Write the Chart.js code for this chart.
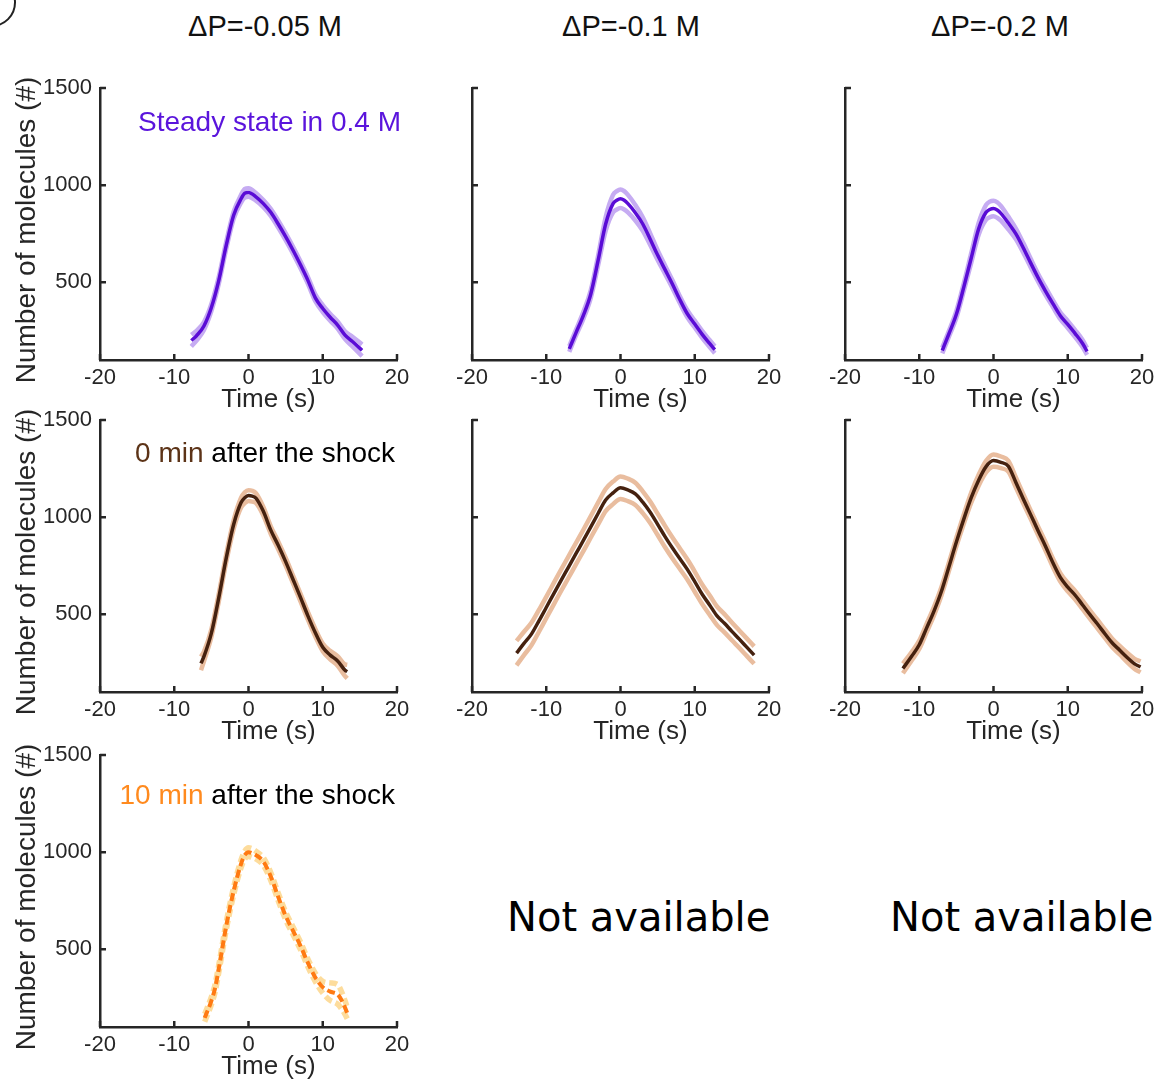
<!DOCTYPE html>
<html>
<head>
<meta charset="utf-8">
<script src="https://cdn.jsdelivr.net/npm/chart.js@4.4.0/dist/chart.umd.min.js"></script>
<style>
  body { margin: 0; width: 1162px; height: 1079px; overflow: hidden; background: #fff; position: relative;
         font-family: "Liberation Sans", Arial, sans-serif; }
  .painel { position: absolute; }
  .titulo-col { position: absolute; top: 12px; font-size: 29px; line-height: 1; color: #111;
                transform: translateX(-50%); white-space: nowrap; }
  .na { position: absolute; top: 897px; font-family: "DejaVu Sans", sans-serif; font-size: 40px; line-height: 1; color: #000; }
  .circulo { position: absolute; left: -33px; top: -22px; width: 49px; height: 49px; box-sizing: border-box;
             border: 2px solid #222; border-radius: 50%; }
</style>
</head>
<body>
<div class="circulo"></div>

<script>
/* ====================================================
   CONTAGEM DE MOLÉCULAS x TEMPO - GRADE 3x3
   ==================================================== */

// ---- eixos ----
const xTicks = [-20, -10, 0, 10, 20];
const yTicks = [500, 1000, 1500];
const colTitles = ['ΔP=-0.05 M', 'ΔP=-0.1 M', 'ΔP=-0.2 M'];

// ---- estado estacionário em 0.4 M ----
const tSteadyA = [-7.7, -7, -6, -5, -4, -3, -2, -1, -0.5, 0, 1, 2, 3, 4, 5, 6, 7, 8, 9, 10, 11, 12, 13, 14, 15.3];
const mSteadyA = [200, 225, 275, 370, 510, 690, 845, 930, 958, 962, 940, 905, 860, 800, 735, 665, 590, 510, 420, 365, 320, 280, 228, 195, 150];
const eSteadyA = [30, 25, 20, 18, 18, 18, 18, 20, 22, 22, 20, 18, 18, 18, 18, 18, 18, 18, 18, 18, 18, 18, 20, 25, 30];

const tSteadyB = [-6.9, -6, -5, -4, -3, -2, -1, -0.5, 0, 0.5, 1, 2, 3, 4, 5, 6, 7, 8, 9, 10, 11, 12, 12.7];
const mSteadyB = [157, 240, 330, 440, 615, 800, 905, 922, 930, 922, 905, 858, 800, 722, 640, 565, 490, 410, 338, 285, 232, 185, 153];
const eSteadyB = [15, 15, 18, 20, 25, 35, 45, 47, 48, 47, 45, 40, 35, 30, 25, 22, 20, 18, 18, 18, 18, 18, 18];

const tSteadyC = [-6.9, -6, -5, -4, -3, -2, -1, -0.5, 0, 0.5, 1, 2, 3, 4, 5, 6, 7, 8, 9, 10, 11, 12, 12.6];
const mSteadyC = [149, 235, 335, 475, 625, 775, 860, 875, 880, 872, 855, 805, 750, 678, 600, 524, 455, 390, 328, 283, 236, 185, 144];
const eSteadyC = [15, 15, 18, 20, 25, 30, 38, 40, 40, 40, 38, 33, 28, 25, 22, 20, 20, 18, 18, 18, 18, 18, 18];

// ---- 0 min após o choque ----
const tZeroA = [-6.4, -6, -5, -4, -3, -2, -1, -0.5, 0, 0.5, 1, 2, 3, 4, 5, 6, 7, 8, 9, 10, 11, 12, 13, 13.3];
const mZeroA = [247, 283, 403, 586, 789, 962, 1075, 1100, 1111, 1108, 1098, 1030, 933, 855, 771, 679, 587, 492, 405, 330, 290, 260, 212, 205];
const eZeroA = [35, 25, 20, 20, 20, 22, 25, 28, 28, 28, 25, 22, 20, 20, 20, 20, 20, 20, 20, 20, 22, 25, 30, 35];

const tZeroB = [-14, -13, -12, -11, -10, -9, -8, -7, -6, -5, -4, -3, -2, -1, 0, 1, 2, 3, 4, 5, 6, 7, 8, 9, 10, 11, 12, 13, 14, 15, 16, 17, 18];
const mZeroB = [300, 350, 398, 465, 535, 605, 675, 743, 812, 880, 950, 1020, 1088, 1125, 1151, 1140, 1120, 1077, 1025, 963, 900, 841, 786, 731, 668, 603, 548, 492, 454, 412, 372, 331, 290];
const eZeroB = [63, 60, 58, 56, 55, 55, 55, 55, 55, 55, 55, 56, 57, 58, 58, 58, 57, 56, 55, 55, 55, 54, 53, 52, 52, 50, 50, 48, 47, 46, 45, 45, 45];

const tZeroC = [-12.2, -11, -10, -9, -8, -7, -6, -5, -4, -3, -2, -1, 0, 1, 2, 3, 4, 5, 6, 7, 8, 9, 10, 11, 12, 13, 14, 15, 16, 17, 18, 19, 19.8];
const mZeroC = [221, 285, 343, 430, 518, 620, 745, 872, 990, 1100, 1190, 1260, 1291, 1282, 1262, 1180, 1095, 1013, 930, 850, 765, 690, 640, 598, 548, 498, 450, 400, 352, 315, 278, 245, 229];
const eZeroC = [25, 22, 22, 22, 22, 22, 22, 22, 24, 26, 28, 30, 32, 30, 28, 26, 24, 22, 22, 22, 22, 22, 22, 22, 22, 22, 22, 22, 22, 22, 24, 26, 28];

// ---- 10 min após o choque ----
const tDezA = [-5.9, -5, -4.5, -4, -3, -2, -1, -0.5, 0, 0.5, 1, 2, 3, 4, 5, 6, 7, 8, 9, 10, 11, 12, 12.5, 13, 13.3];
const mDezA = [147, 235, 300, 400, 620, 800, 940, 985, 1000, 995, 985, 952, 875, 770, 672, 595, 518, 430, 355, 305, 282, 268, 240, 200, 172];
const eDezA = [20, 20, 20, 20, 20, 20, 20, 20, 22, 22, 20, 20, 20, 20, 20, 20, 20, 20, 22, 30, 45, 50, 45, 35, 30];

// ---- cores ----
const AXIS = '#262626';
const FONT = '"Liberation Sans", Arial, sans-serif';
const ROXO = '#5a0cd6', ROXO_BANDA = '#c6acf2';
const MARROM = '#45210f', MARROM_BANDA = '#e9bd9f';
const LARANJA = '#ff7a12', LARANJA_BANDA = '#fddc9c';

// ---- posições da grade ----
const COL_LEFT = [100, 472, 845];
const ROW_TOP = [88, 420, 755];
const PLOT_W = 297, PLOT_H = 272;
const PAD_TOP = 26, PAD_RIGHT = 20, AXIS_W = 100, AXIS_H = 72;

const paineis = [
  { col: 0, row: 0, t: tSteadyA, m: mSteadyA, e: eSteadyA, cor: ROXO, banda: ROXO_BANDA,
    nota: [{ txt: 'Steady state in 0.4 M', cor: '#5a14dc' }], notaX: 4, notaY: 43 },
  { col: 1, row: 0, t: tSteadyB, m: mSteadyB, e: eSteadyB, cor: ROXO, banda: ROXO_BANDA },
  { col: 2, row: 0, t: tSteadyC, m: mSteadyC, e: eSteadyC, cor: ROXO, banda: ROXO_BANDA },
  { col: 0, row: 1, t: tZeroA, m: mZeroA, e: eZeroA, cor: MARROM, banda: MARROM_BANDA,
    nota: [{ txt: '0 min', cor: '#5c3317' }, { txt: ' after the shock', cor: '#000' }], notaX: -2, notaY: 42 },
  { col: 1, row: 1, t: tZeroB, m: mZeroB, e: eZeroB, cor: MARROM, banda: MARROM_BANDA },
  { col: 2, row: 1, t: tZeroC, m: mZeroC, e: eZeroC, cor: MARROM, banda: MARROM_BANDA },
  { col: 0, row: 2, t: tDezA, m: mDezA, e: eDezA, cor: LARANJA, banda: LARANJA_BANDA, dash: [8, 4],
    nota: [{ txt: '10 min', cor: '#ff8a1e' }, { txt: ' after the shock', cor: '#000' }], notaX: -2, notaY: 49 }
];

Chart.defaults.font.family = FONT;

const toXY = (t, v) => t.map((x, i) => ({ x: x, y: v[i] }));

// ticks para dentro + textos do painel
const textosPainel = {
  id: 'textosPainel',
  afterDraw(chart) {
    const p = chart.options.plugins.textosPainel.painel;
    const { ctx, chartArea: a, scales: { x, y } } = chart;
    ctx.save();
    ctx.strokeStyle = AXIS;
    ctx.lineWidth = 2.5;
    ctx.beginPath();
    x.ticks.forEach(tk => {
      const px = x.getPixelForValue(tk.value);
      ctx.moveTo(px, a.bottom);
      ctx.lineTo(px, a.bottom - 6);
    });
    y.ticks.forEach(tk => {
      const py = y.getPixelForValue(tk.value);
      ctx.moveTo(a.left, py);
      ctx.lineTo(a.left + 6, py);
    });
    ctx.stroke();

    // título do eixo x (levemente deslocado para a direita, como no original)
    ctx.fillStyle = AXIS;
    ctx.font = '26px ' + FONT;
    ctx.textAlign = 'center';
    ctx.textBaseline = 'alphabetic';
    ctx.fillText('Time (s)', (a.left + a.right) / 2 + 20, a.bottom + 47);

    // título do eixo y só na primeira coluna
    if (p.col === 0) {
      ctx.save();
      ctx.translate(a.left - 73, (a.top + a.bottom) / 2 + 6);
      ctx.rotate(-Math.PI / 2);
      ctx.font = '28px ' + FONT;
      ctx.textBaseline = 'middle';
      ctx.fillText('Number of molecules (#)', 0, 0);
      ctx.restore();
    }

    // anotação colorida
    if (p.nota) {
      ctx.font = '28px ' + FONT;
      ctx.textAlign = 'left';
      const total = p.nota.reduce((s, n) => s + ctx.measureText(n.txt).width, 0);
      let cx = a.right + p.notaX - total;
      p.nota.forEach(n => {
        ctx.fillStyle = n.cor;
        ctx.fillText(n.txt, cx, a.top + p.notaY);
        cx += ctx.measureText(n.txt).width;
      });
    }
    ctx.restore();
  }
};

function criarPainel(p) {
  const div = document.createElement('div');
  div.className = 'painel';
  div.style.left = (COL_LEFT[p.col] - AXIS_W) + 'px';
  div.style.top = (ROW_TOP[p.row] - PAD_TOP) + 'px';
  div.style.width = (AXIS_W + PLOT_W + PAD_RIGHT) + 'px';
  div.style.height = (PAD_TOP + PLOT_H + AXIS_H) + 'px';
  const canvas = document.createElement('canvas');
  div.appendChild(canvas);
  document.body.appendChild(div);

  const tracejado = p.dash || [];
  const largMedia = p.dash ? 4 : 3.5;
  const largBanda = p.dash ? 5.5 : 4.5;
  const linha = { pointRadius: 0, fill: false, cubicInterpolationMode: 'monotone', borderDash: tracejado };
  const upper = p.m.map((v, i) => v + p.e[i]);
  const lower = p.m.map((v, i) => v - p.e[i]);

  new Chart(canvas, {
    type: 'line',
    data: {
      datasets: [
        Object.assign({ data: toXY(p.t, p.m), borderColor: p.cor, borderWidth: largMedia }, linha),
        Object.assign({ data: toXY(p.t, upper), borderColor: p.banda, borderWidth: largBanda }, linha),
        Object.assign({ data: toXY(p.t, lower), borderColor: p.banda, borderWidth: largBanda }, linha)
      ]
    },
    options: {
      responsive: true,
      maintainAspectRatio: false,
      animation: false,
      layout: { padding: { top: PAD_TOP, right: PAD_RIGHT, left: 0, bottom: 0 } },
      plugins: { legend: { display: false }, tooltip: { enabled: false }, textosPainel: { painel: p } },
      scales: {
        x: {
          type: 'linear', min: -20, max: 20,
          afterBuildTicks: s => { s.ticks = xTicks.map(v => ({ value: v })); },
          afterFit: s => { s.height = AXIS_H; },
          grid: { display: false, drawTicks: false },
          border: { display: true, color: AXIS, width: 2.5 },
          ticks: { color: AXIS, font: { size: 22 }, padding: 5, maxRotation: 0, autoSkip: false,
                   callback: v => String(v) }
        },
        y: {
          type: 'linear', min: 100, max: 1500,
          afterBuildTicks: s => { s.ticks = yTicks.map(v => ({ value: v })); },
          afterFit: s => { s.width = AXIS_W; },
          grid: { display: false, drawTicks: false },
          border: { display: true, color: AXIS, width: 2.5 },
          ticks: { display: p.col === 0, color: AXIS, font: { size: 22 }, padding: 8, labelOffset: 0,
                   callback: v => String(v) }
        }
      }
    },
    plugins: [textosPainel]
  });
}

// títulos das colunas
[265, 631, 1000].forEach((cx, i) => {
  const d = document.createElement('div');
  d.className = 'titulo-col';
  d.style.left = cx + 'px';
  d.textContent = colTitles[i];
  document.body.appendChild(d);
});

// "Not available"
[507, 890].forEach(x => {
  const d = document.createElement('div');
  d.className = 'na';
  d.style.left = x + 'px';
  d.textContent = 'Not available';
  document.body.appendChild(d);
});

paineis.forEach(criarPainel);
</script>
</body>
</html>
